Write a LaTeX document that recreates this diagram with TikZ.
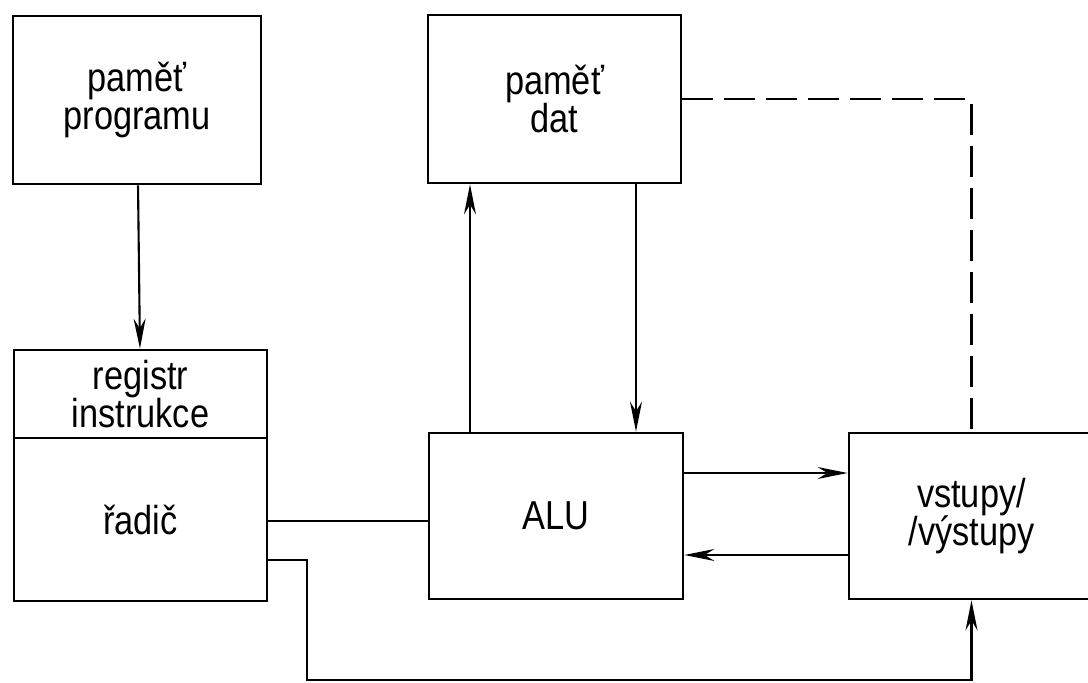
\documentclass[tikz,border=0pt]{standalone}
\usepackage{fontspec}
\setmainfont{Liberation Sans}[FakeStretch=0.85]
\usetikzlibrary{arrows.meta, positioning, calc}

\begin{document}
\begin{tikzpicture}[
  blok/.style={draw, rectangle, line width=1.6pt, align=center, inner sep=2pt, font=\fontsize{23}{22}\selectfont},
  spoj/.style={line width=1.2pt},
  >={Stealth[length=6mm, width=2.4mm]}
]
\useasboundingbox (0,0) rectangle (21.76,13.66);

\node[blok, minimum width=4.96cm, minimum height=3.36cm] (program) at (2.74,11.66) {paměť\\programu};
\node[blok, minimum width=5.06cm, minimum height=3.36cm] (data) at (11.09,11.68) {paměť\\dat};
\node[blok, minimum width=5.06cm, minimum height=1.76cm] (registr) at (2.81,5.78) {registr\\instrukce};
\node[blok, minimum width=5.06cm, minimum height=3.26cm] (radic) at (2.81,3.27) {řadič};
\node[blok, minimum width=5.08cm, minimum height=3.32cm] (alu) at (11.12,3.34) {ALU};
\node[blok, minimum width=4.9cm, minimum height=3.32cm] (vv) at (19.43,3.34) {vstupy/\\/výstupy};
\coordinate (dole) at (6.14,0.06);

% program -> registr
\draw[spoj, ->] (program) -- (registr);

% ALU <-> pamet dat
\draw[spoj, ->] ([xshift=-1.72cm]alu.north) -- ([xshift=-1.72cm]alu.north |- data.south);
\draw[spoj, ->] ([xshift=1.63cm]data.south) -- ([xshift=1.63cm]data.south |- alu.north);

% pamet dat -> vstupy/vystupy (carkovane)
\draw[spoj, dash pattern=on 0.62cm off 0.22cm] (data.east) -| (vv.north);

% radic - ALU
\draw[spoj] ([yshift=-0.03cm]radic.east) -- ([yshift=-0.03cm]radic.east -| alu.west);

% ALU <-> vstupy/vystupy
\draw[spoj, ->] ([yshift=0.86cm]alu.east) -- ([yshift=0.86cm]alu.east -| vv.west);
\draw[spoj, ->] ([yshift=-0.78cm]vv.west) -- ([yshift=-0.78cm]vv.west -| alu.east);

% radic -> vstupy/vystupy dole
\draw[spoj, ->] ([yshift=-0.81cm]radic.east) -| (dole) -| (vv.south);

\end{tikzpicture}
\end{document}
